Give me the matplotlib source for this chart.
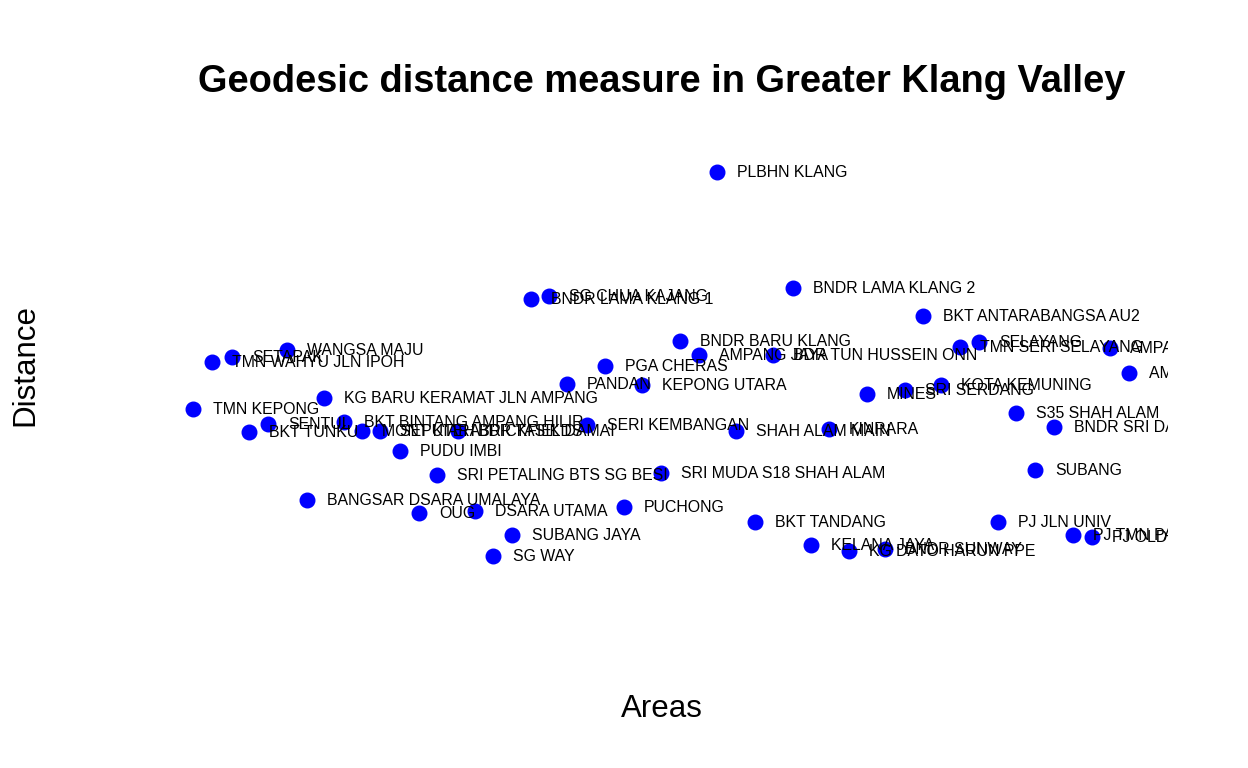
import matplotlib
matplotlib.use('Agg')
from matplotlib import pyplot as plt

# areas and their positions (x = area axis, y = distance)
areas = ['PLBHN KLANG', 'BNDR LAMA KLANG 2', 'SG CHUA KAJANG', 'BNDR LAMA KLANG 1',
         'BKT ANTARABANGSA AU2', 'BNDR BARU KLANG', 'AMPANG JAYA', 'BDR TUN HUSSEIN ONN',
         'TMN SERI SELAYANG', 'SELAYANG', 'AMPANG', 'AMPANG POINT',
         'PGA CHERAS', 'PANDAN', 'KEPONG UTARA', 'MINES', 'SRI SERDANG', 'KOTA KEMUNING',
         'S35 SHAH ALAM', 'BNDR SRI DAMANSARA', 'SUBANG', 'SHAH ALAM MAIN', 'KINRARA',
         'SERI KEMBANGAN', 'SRI MUDA S18 SHAH ALAM', 'SRI PETALING BTS SG BESI', 'PUDU IMBI',
         'KG BARU KERAMAT JLN AMPANG', 'TMN KEPONG', 'WANGSA MAJU', 'SETAPAK',
         'TMN WAHYU JLN IPOH', 'SENTUL', 'BKT TUNKU', 'BKT BINTANG AMPANG HILIR',
         'MONT KIARA', 'SEPUTEH BRICKFIELDS', 'BDR TASIK DAMAI', 'BANGSAR DSARA UMALAYA', 'OUG',
         'DSARA UTAMA', 'PUCHONG', 'SUBANG JAYA', 'SG WAY', 'BKT TANDANG', 'KELANA JAYA',
         'KG DATO HARUN PPE', 'BNDR SUNWAY', 'PJ JLN UNIV', 'PJ TMN PARAMOUNT', 'PJ OLD TOWN']

area_x = [56.1, 63.7, 39.3, 37.5,
          76.7, 52.4, 54.3, 61.7,
          80.4, 82.3, 95.4, 97.3,
          44.9, 41.1, 48.6, 71.1, 74.9, 78.5,
          86.0, 89.8, 87.9, 58.0, 67.3,
          43.1, 50.5, 28.1, 24.4,
          16.8, 3.7, 13.1, 7.6,
          5.6, 11.2, 9.3, 18.8,
          20.6, 22.4, 30.2, 15.1, 26.3,
          31.9, 46.8, 35.6, 33.7, 59.9, 65.5,
          69.3, 72.9, 84.2, 91.7, 93.6]

distance = [44.8, 33.2, 32.4, 32.1,
            30.4, 27.9, 26.5, 26.5,
            27.3, 27.8, 27.2, 24.7,
            25.4, 23.6, 23.5, 22.6, 23.0, 23.5,
            20.7, 19.3, 15.0, 18.9, 19.1,
            19.5, 14.7, 14.5, 16.9,
            22.2, 21.1, 27.0, 26.3,
            25.8, 19.6, 18.8, 19.8,
            18.9, 18.9, 18.9, 12.0, 10.7,
            10.9, 11.3, 8.5, 6.4, 9.8, 7.5,
            6.9, 7.1, 9.8, 8.5, 8.3]

plt.rcParams['font.family'] = ['Liberation Sans', 'DejaVu Sans']

fig = plt.figure(figsize=(12.48, 7.68), dpi=100)
ax = fig.add_axes([156 / 1248, 1 - 620 / 768, 1012 / 1248, 510 / 768])
ax.set_xlim(0, 101.2)
ax.set_ylim(0, 51)
ax.axis('off')

ax.scatter(area_x, distance, s=110, color='#0000ff', zorder=3, clip_on=False)
for name, xv, yv in zip(areas, area_x, distance):
    t = ax.annotate(name, (xv, yv), xytext=(14.4, -0.5), textcoords='offset points',
                    ha='left', va='center', fontsize=11.4, color='black',
                    annotation_clip=False)
    t.set_clip_on(True)
    t.set_clip_box(ax.bbox)

fig.text(662 / 1248, 1 - 82 / 768, 'Geodesic distance measure in Greater Klang Valley',
         ha='center', va='center', fontsize=27.4, fontweight='bold')
fig.text(662 / 1248, 1 - 709 / 768, 'Areas', ha='center', va='center', fontsize=22.5)
fig.text(25 / 1248, 1 - 365 / 768, 'Distance', ha='center', va='center', fontsize=22.5,
         rotation=90)

fig.savefig('out.png', dpi=100)
